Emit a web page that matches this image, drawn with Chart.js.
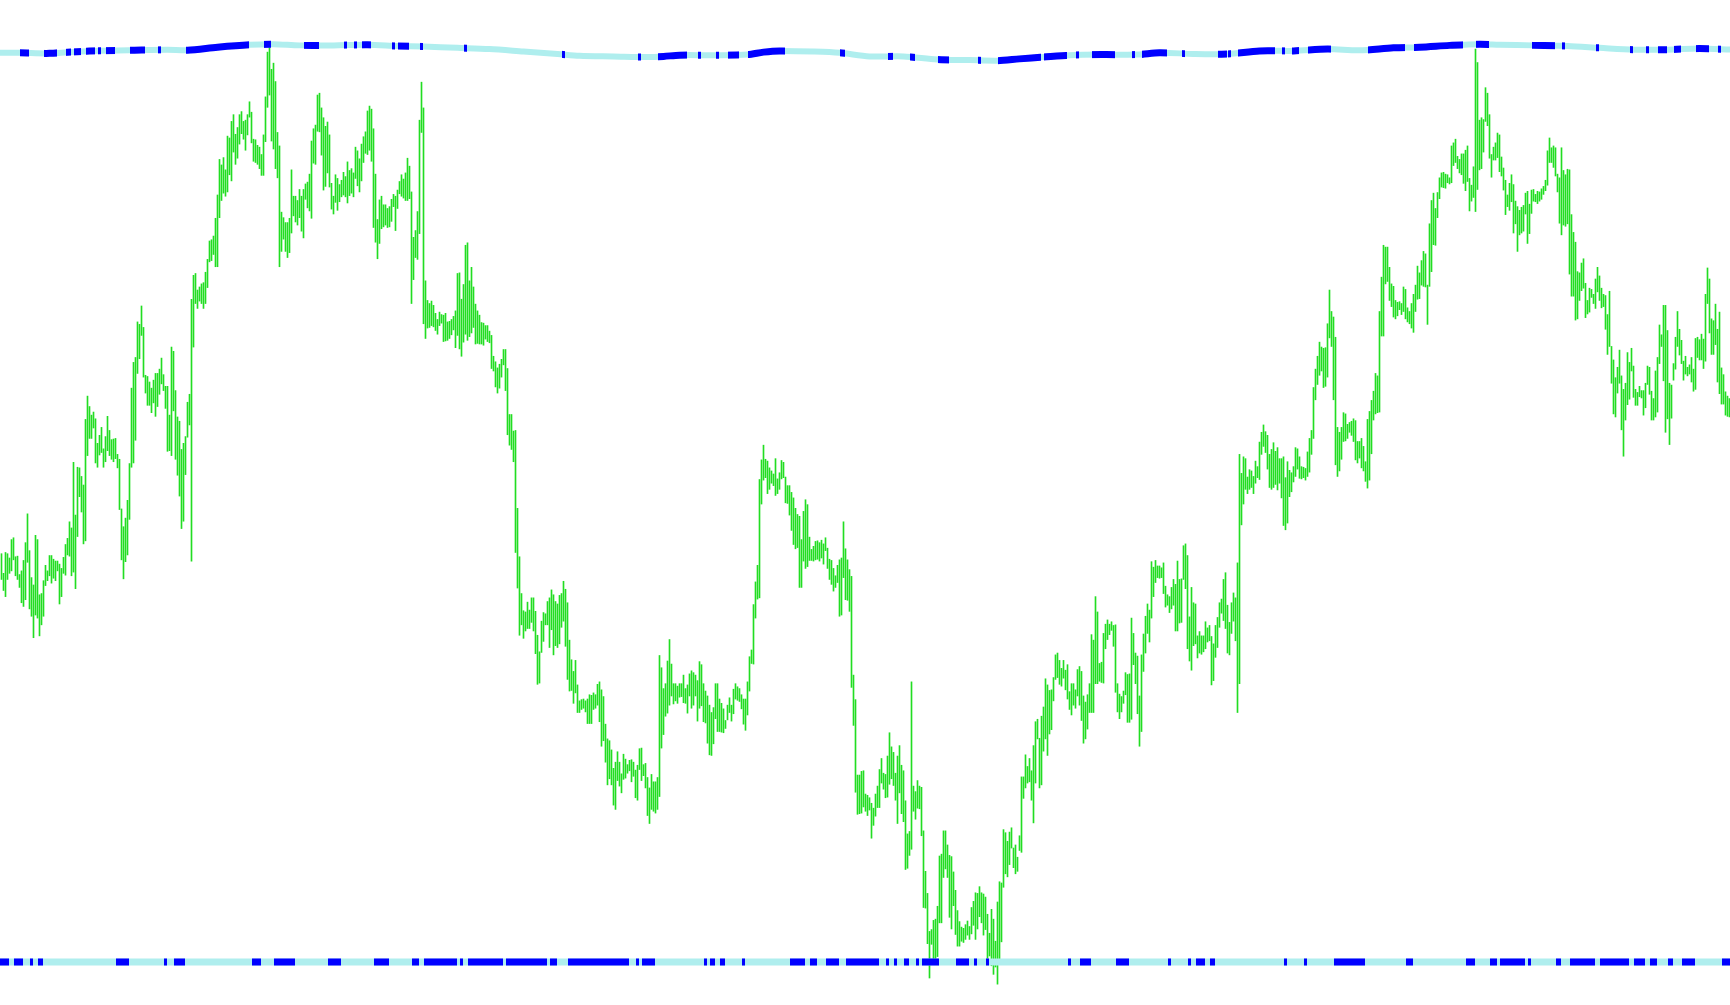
<!DOCTYPE html>
<html>
<head>
<meta charset="utf-8">
<script src="https://cdn.jsdelivr.net/npm/chart.js@4"></script>
<style>
  html, body { margin:0; padding:0; background:#fff; overflow:hidden; }
  canvas { display:block; }
</style>
</head>
<body>
<canvas id="chart" width="1730" height="1005"></canvas>
<script>
// ----- Data (price in points, one bar per period) -----
const barHigh = [
1162,1130,1164,1162,1155,1185,1188,1157,1158,1128,1134,1151,1180,1227,1167,1123,1111,1192,1185,1095,
1097,1118,1143,1134,1159,1159,1153,1150,1150,1145,1138,1156,1177,1187,1214,1204,1311,1225,1303,1302,
1288,1274,1381,1419,1402,1388,1393,1382,1342,1355,1368,1333,1353,1386,1363,1348,1349,1350,1324,1316,
1235,1206,1220,1249,1309,1432,1474,1482,1540,1536,1566,1531,1453,1451,1442,1432,1445,1456,1456,1463,
1481,1454,1435,1435,1388,1499,1492,1428,1385,1378,1332,1342,1353,1409,1422,1577,1616,1619,1592,1597,
1602,1604,1621,1642,1672,1674,1680,1709,1747,1805,1796,1808,1788,1843,1840,1867,1878,1846,1857,1878,
1883,1867,1869,1878,1899,1882,1838,1837,1828,1825,1813,1845,1907,1980,1988,1952,1962,1932,1849,1827,
1719,1710,1702,1702,1709,
1788,1745,1745,1738,1756,1745,1756,1765,1768,1781,1835,1855,1861,1910,1913,1889,1873,1859,1866,1845,
1766,1745,1780,1774,1764,1771,1784,1777,1801,1787,1790,1783,1825,1819,1806,1830,1842,1850,1884,1892,
1887,1855,1781,1707,1739,1745,1731,1731,1725,1728,1740,1748,1745,1755,1769,1780,1773,1783,1807,1794,
1752,1678,1689,1720,1869,1931,1889,1607,1575,1570,1574,1567,1554,1544,1556,1552,1551,1554,1540,1541,
1544,1549,1558,1619,1620,1577,1601,1665,1669,1607,1629,1597,1569,1558,1551,1539,1538,1534,1534,1525,
1518,1484,1475,1465,1471,1479,1495,1495,1464,1389,1389,1362,1363,1236,1157,1097,1069,1067,1083,1070,
1090,1090,1068,1029,1002,1052,1066,1064,1084,1090,1103,1095,1084,1080,1094,1097,1117,1104,1082,1021,
989,970,988,948,922,
924,925,922,925,932,931,935,932,949,953,940,929,884,860,857,842,812,822,839,822,
803,835,827,818,825,826,822,809,817,844,845,818,820,797,780,802,790,790,797,996,
976,942,950,987,1022,982,950,950,946,950,950,964,942,948,966,971,968,964,955,986,
981,950,938,930,915,903,911,950,950,925,918,909,890,915,927,915,941,950,945,942,
932,925,925,953,994,1005,1079,1116,1143,1283,1315,1339,1316,1313,1302,1297,1292,1317,1284,1294,
1314,1311,1287,1273,1273,1262,1253,1236,1226,1223,1185,1231,1250,1242,1189,1169,1174,1182,1183,1180,
1184,1178,1188,1171,1153,1151,1138,1126,1143,1152,1155,1214,1170,1152,1136,1125,964,924,801,801,
807,808,770,768,764,
755,747,770,783,810,828,804,802,832,870,847,838,804,832,849,817,808,759,705,709,
953,783,774,792,783,781,710,644,608,546,549,564,566,587,669,672,710,710,687,670,
668,643,613,580,562,553,551,557,563,554,585,595,609,608,619,609,607,602,574,543,
582,566,530,594,627,625,712,707,693,708,715,682,687,667,702,798,798,834,815,828,
808,849,888,892,861,897,912,958,948,939,940,960,997,1000,988,975,988,972,981,937,
950,950,940,973,978,970,930,920,932,950,1030,1021,1092,1067,983,985,1032,1047,1054,1047,
1051,1045,1046,950,933,929,938,968,965,966,1057,1032,1000,995,930,997,1031,1060,1080,1070,
1149,1140,1151,1142,1142,
1139,1147,1109,1095,1092,1107,1120,1112,1150,1120,1121,1175,1178,1159,1059,1107,1082,1080,1028,1035,
1028,1028,1051,1041,1045,1027,1015,1045,1058,1082,1088,1120,1131,1078,1050,1082,1098,1090,1147,1324,
1293,1320,1317,1287,1299,1297,1288,1313,1304,1344,1360,1372,1361,1355,1324,1332,1343,1329,1335,1317,
1317,1320,1286,1312,1298,1294,1304,1335,1333,1320,1304,1303,1301,1328,1350,1363,1433,1463,1484,1507,
1499,1497,1498,1537,1592,1557,1548,1515,1368,1360,1368,1392,1390,1373,1376,1378,1382,1379,1345,1345,
1350,1337,1312,1381,1394,1412,1427,1456,1452,1557,1613,1665,1662,1662,1629,1602,1598,1575,1572,1573,
1570,1597,1593,1563,1557,1570,1585,1600,1631,1620,1640,1655,1651,1600,1700,1738,1750,1725,1751,1775,
1783,1784,1781,1780,1775,
1827,1832,1838,1810,1805,1814,1814,1820,1827,1774,1763,1793,1985,1963,1869,1873,1870,1922,1913,1878,
1813,1825,1832,1848,1845,1809,1791,1771,1747,1766,1780,1764,1737,1728,1722,1727,1730,1750,1753,1732,
1755,1756,1748,1753,1752,1757,1761,1771,1819,1840,1824,1827,1824,1781,1775,1824,1787,1780,1789,1788,
1715,1686,1670,1622,1620,1636,1643,1603,1575,1595,1593,1585,1610,1629,1615,1595,1585,1583,1552,1590,
1500,1478,1449,1466,1494,1452,1430,1440,1490,1474,1497,1468,1430,1425,1435,1428,1428,1440,1468,1466,
1427,1415,1460,1482,1535,1519,1567,1567,1526,1440,1437,1472,1515,1557,1528,1510,1476,1484,1466,1470,
1482,1463,1513,1515,1511,1520,1512,1585,1628,1610,1545,1542,1569,1528,1556,1465,1454,1426,1419,1415
];

const barLow = [
1120,1102,1092,1120,1130,1134,1152,1126,1120,1107,1082,1076,1087,1148,1072,1060,1025,1062,1057,1028,
1046,1060,1110,1118,1126,1114,1122,1118,1134,1080,1092,1130,1127,1160,1158,1126,1132,1105,1190,1255,
1230,1178,1183,1322,1350,1350,1367,1310,1303,1323,1327,1303,1312,1330,1322,1316,1312,1317,1302,1234,
1152,1121,1149,1160,1218,1303,1310,1347,1456,1480,1518,1450,1424,1404,1404,1392,1408,1386,1402,1422,
1439,1428,1399,1329,1330,1322,1395,1316,1290,1256,1203,1215,1291,1352,1372,1150,1499,1570,1562,1574,
1570,1562,1570,1596,1638,1640,1650,1630,1630,1710,1738,1750,1745,1752,1780,1770,1817,1797,1807,1830,
1847,1838,1820,1845,1874,1832,1802,1800,1797,1790,1779,1779,1834,1890,1910,1835,1822,1790,1775,1630,
1655,1675,1655,1645,1653,
1685,1713,1703,1698,1710,1688,1677,1740,1726,1721,1709,1799,1797,1851,1850,1812,1755,1761,1783,1760,
1724,1716,1735,1722,1736,1744,1747,1744,1734,1746,1750,1744,1774,1762,1752,1770,1800,1815,1813,1820,
1802,1694,1670,1643,1668,1692,1695,1698,1694,1695,1704,1728,1689,1725,1749,1745,1742,1738,1738,1741,
1570,1609,1645,1642,1684,1849,1537,1513,1530,1531,1534,1532,1526,1520,1534,1538,1508,1509,1510,1513,
1519,1527,1498,1518,1496,1484,1507,1520,1510,1516,1522,1531,1504,1505,1504,1504,1502,1512,1508,1506,
1464,1460,1434,1424,1432,1450,1470,1428,1356,1339,1332,1312,1164,1106,1029,1046,1024,1036,1040,1040,
1050,1036,999,949,951,1001,1019,1046,1046,1009,1038,997,1012,1009,1015,1042,1052,1011,957,938,
939,918,935,903,903,
908,910,904,885,885,885,908,910,915,888,848,857,822,785,795,785,752,745,792,783,
772,794,796,804,808,790,799,764,760,810,792,800,780,735,722,745,742,739,745,766,
845,867,897,902,915,930,917,922,918,928,929,919,918,902,930,910,915,930,889,910,
914,888,886,853,834,833,852,893,872,872,871,870,877,891,903,889,901,925,923,921,
909,884,874,899,938,983,982,1057,1088,1090,1243,1282,1286,1260,1267,1277,1273,1257,1260,1267,
1284,1286,1245,1244,1225,1200,1177,1170,1172,1107,1107,1150,1138,1141,1151,1151,1150,1152,1153,1150,
1155,1145,1167,1138,1120,1112,1101,1107,1115,1060,1062,1123,1087,1086,1068,944,882,773,737,738,
739,749,742,735,744,
698,719,734,748,748,788,778,764,765,786,795,784,760,722,772,738,725,647,649,670,
680,742,729,747,746,702,585,584,526,470,525,499,500,505,560,560,634,648,634,569,
550,588,541,522,522,530,528,533,540,533,542,556,533,550,570,560,540,549,500,506,
490,476,488,460,499,529,618,640,635,655,682,650,640,644,678,675,763,780,788,790,
760,723,788,860,780,785,840,860,833,868,875,922,957,960,949,946,959,940,925,908,
899,915,910,930,915,890,853,860,876,903,903,903,950,950,954,952,951,1007,1022,1030,
1037,1011,936,904,893,904,918,932,887,887,892,981,950,901,848,872,970,1000,1032,1018,
1057,1092,1115,1123,1122,
1123,1097,1075,1078,1066,1072,1078,1036,1036,1049,1050,1120,1105,1007,987,972,1012,1015,992,1000,
998,1002,1007,1018,1020,948,955,993,1009,1042,1065,1053,1040,1000,997,1032,1052,1020,903,950,
1209,1243,1267,1260,1267,1270,1260,1277,1286,1283,1324,1337,1327,1300,1270,1267,1270,1275,1266,1277,
1253,1208,1201,1212,1255,1263,1279,1288,1300,1285,1284,1286,1282,1288,1295,1324,1350,1413,1438,1453,
1460,1433,1435,1450,1514,1500,1413,1307,1288,1297,1316,1345,1346,1350,1360,1355,1345,1315,1310,1318,
1302,1297,1280,1269,1282,1325,1380,1390,1392,1393,1517,1517,1602,1606,1575,1565,1548,1545,1550,1560,
1552,1557,1545,1540,1537,1530,1523,1557,1577,1578,1600,1598,1597,1536,1598,1622,1666,1665,1710,1741,
1760,1759,1758,1767,1765,
1767,1795,1800,1790,1783,1780,1766,1754,1769,1721,1737,1743,1720,1756,1788,1790,1817,1867,1860,1807,
1776,1804,1804,1808,1785,1778,1755,1715,1728,1722,1736,1685,1700,1655,1682,1685,1688,1716,1668,1684,
1717,1737,1736,1733,1737,1740,1748,1754,1763,1800,1800,1792,1778,1752,1701,1682,1698,1696,1700,1618,
1582,1582,1543,1545,1575,1591,1595,1547,1553,1556,1580,1570,1562,1589,1575,1563,1565,1528,1487,1500,
1440,1390,1385,1424,1440,1364,1321,1380,1405,1414,1460,1417,1404,1404,1418,1416,1388,1400,1438,1422,
1380,1380,1385,1393,1472,1500,1444,1360,1382,1340,1383,1445,1463,1500,1486,1472,1445,1455,1452,1455,
1442,1427,1430,1482,1478,1478,1464,1476,1570,1522,1487,1487,1503,1442,1423,1406,1406,1388,1386,1385
];

// upper indicator line (knots: bar index / level)
const upperX = [-1,9,24,44,64,83,93,108,124,136,149,166,183,198,211,228,244,261,278,289,
  306,323,331,339,356,373,381,389,406,419,434,451,468,484,498,509,521,534,551,568,
  579,596,613,629,646,663,679,696,709,724,739,749,766,783,799,816,833,849,865];
const upperY = [1979,1979,1978,1982,1983,1984,1983,1988,1992,1993,1991,1991,1992,1990,1989,1987,1985,1981,1977,1974,
  1973,1972,1973,1975,1975,1976,1980,1982,1981,1979,1973,1973,1968,1967,1966,1969,1972,1975,1976,1976,
  1979,1977,1977,1982,1982,1985,1983,1987,1988,1991,1993,1992,1991,1990,1987,1984,1984,1986,1984];
// bar ranges where the upper line is in its "blue" state
const upperBlue = [[10,13],[22,27],[33,34],[37,39],[43,46],[49,49],[53,56],[65,71],[79,79],[93,123],
  [132,134],[152,158],[172,172],[177,177],[181,184],[196,196],[199,203],[210,210],[232,232],[281,281],
  [319,319],[329,342],[349,349],[358,358],[364,368],[374,391],[420,421],[444,445],[455,456],[469,473],
  [489,489],[499,519],[522,532],[538,538],[546,556],[566,566],[571,582],[591,591],[609,612],[614,614],
  [619,636],[641,641],[646,648],[654,664],[684,701],[707,730],[738,743],[766,776],[781,781],[798,798],
  [815,815],[823,823],[829,832],[837,839],[848,853],[859,859]];

// lower indicator line (flat level)
const lowerX = [-1, 865];
const lowerY = [496, 496];
const lowerBlue = [[0,3],[7,10],[15,15],[19,20],[58,63],[82,82],[87,91],[126,129],[137,146],[164,169],
  [187,193],[206,208],[212,227],[230,230],[234,250],[253,272],[275,277],[284,313],[318,318],[321,326],
  [352,352],[355,356],[360,361],[371,371],[395,401],[405,407],[413,418],[423,438],[443,443],[447,447],
  [452,453],[458,458],[461,468],[478,483],[487,487],[493,493],[534,534],[540,544],[558,563],[584,584],
  [594,594],[598,601],[605,606],[642,642],[652,652],[667,681],[703,705],[733,736],[745,747],[750,761],
  [764,764],[778,779],[785,796],[800,813],[817,821],[825,827],[834,835],[841,846],[861,864]];

const GREEN = '#22dd22', BLUE = '#0000ff', TURQ = '#afeeee';

// ----- Helpers -----
const pts = (xs, ys) => xs.map((x, i) => ({x, y: ys[i]}));

// clip a dataset to its list of bar ranges (for the two-colour lines)
const runClip = {
  id: 'runClip',
  beforeDatasetDraw(chart, args) {
    const runs = chart.data.datasets[args.index].runs;
    if (!runs) return;
    const sx = chart.scales.x, ctx = chart.ctx;
    ctx.save();
    ctx.beginPath();
    for (const [s, e] of runs) {
      const x0 = sx.getPixelForValue(s - 0.75), x1 = sx.getPixelForValue(e + 0.75);
      ctx.rect(x0, 0, x1 - x0, chart.height);
    }
    ctx.clip();
  },
  afterDatasetDraw(chart, args) {
    if (chart.data.datasets[args.index].runs) chart.ctx.restore();
  }
};

const lineBase = { type:'line', pointRadius:0, borderCapStyle:'butt', fill:false };

new Chart(document.getElementById('chart'), {
  type: 'bar',
  data: {
    datasets: [
      { ...lineBase, label:'upper', data: pts(upperX, upperY), borderColor: TURQ, borderWidth: 6, tension: 0.3, order: 2 },
      { ...lineBase, label:'upper blue', data: pts(upperX, upperY), borderColor: BLUE, borderWidth: 7, tension: 0.3, order: 1, runs: upperBlue },
      { ...lineBase, label:'lower', data: pts(lowerX, lowerY), borderColor: TURQ, borderWidth: 7, order: 2 },
      { ...lineBase, label:'lower blue', data: pts(lowerX, lowerY), borderColor: BLUE, borderWidth: 7, order: 1, runs: lowerBlue },
      { label:'price', data: barHigh.map((h, i) => ({x: i, y: [barLow[i], h]})),
        backgroundColor: GREEN, borderWidth: 0, barThickness: 1, order: 3 }
    ]
  },
  options: {
    responsive: false,
    animation: false,
    devicePixelRatio: 1,
    layout: { padding: 0 },
    plugins: { legend: { display:false }, tooltip: { enabled:false } },
    scales: {
      x: { type:'linear', min:-0.75, max:864.25, offset:false, display:false },
      y: { type:'linear', min:426, max:2065, display:false }
    }
  },
  plugins: [runClip]
});
</script>
</body>
</html>
